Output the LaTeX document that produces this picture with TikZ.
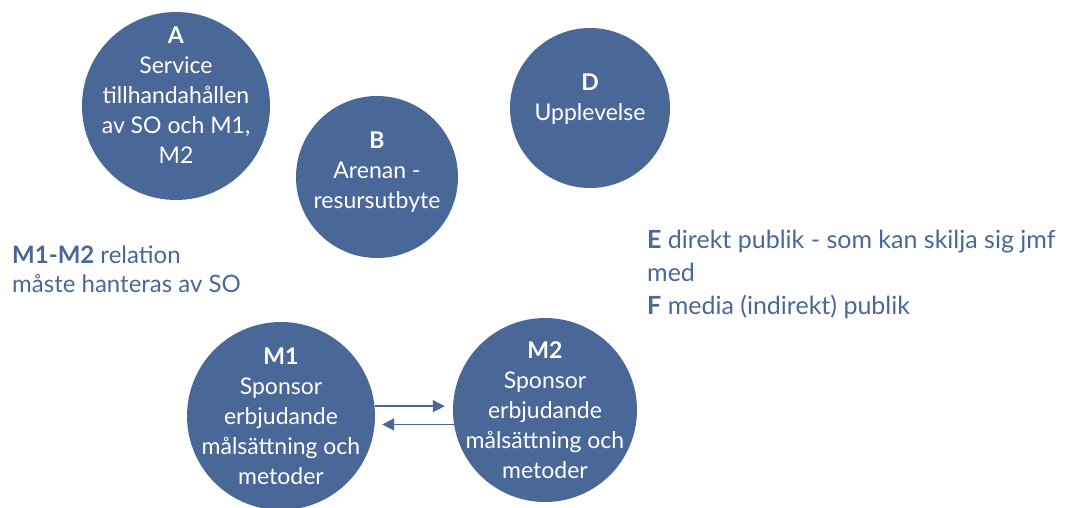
\documentclass[tikz,border=0pt]{standalone}
\usepackage{fontspec}
\setmainfont{Lato}
\usepackage{xcolor}
\usetikzlibrary{arrows.meta, positioning}
\definecolor{slate}{HTML}{4A6897}

\begin{document}
\begin{tikzpicture}[x=1pt, y=-1pt,
      disc/.style={circle, fill=slate, text=white, inner sep=-40pt,
                   align=center, font=\fontsize{23}{30}\selectfont},
      arr/.style={-{Triangle[length=12pt,width=12pt]}, line width=1.5pt, draw=slate, fill=slate},
      note/.style={text=slate, align=left, inner sep=0pt, anchor=north west}
    ]
    \useasboundingbox (0,0) rectangle (1066,507);
    % empty last line lifts the text a little, as in the slide
    \node[disc, minimum size=188pt] (A) at (176,106) {\textbf{A}\\Service\\tillhandahållen\\av SO och M1,\\M2\\[-9pt]\mbox{}};
    \node[disc, minimum size=162pt] (B) at (377,177) {\textbf{B}\\Arenan -\\resursutbyte\\[-17pt]\mbox{}};
    \node[disc, minimum size=160pt] (D) at (590,108) {\textbf{D}\\Upplevelse\\[-9pt]\mbox{}};
    \node[disc, minimum size=188pt] (M1) at (281,416) {\textbf{M1}\\Sponsor\\erbjudande\\målsättning och\\metoder};
    \node[disc, minimum size=184pt] (M2) at (545,410) {\textbf{M2}\\Sponsor\\erbjudande\\målsättning och\\metoder};

    \node[note, font=\fontsize{24}{29}\selectfont] (rel) at (12,246) {\textbf{M1-M2} relation\\måste hanteras av SO};
    \node[note, font=\fontsize{25}{33}\selectfont] (pub) at (647,230) {\textbf{E} direkt publik - som kan skilja sig jmf\\med\\\textbf{F} media (indirekt) publik};

    \draw[arr, shorten >=8pt] (M1.6.7) -- (M1.6.7 -| M2.west);
    \draw[arr, shorten >=7pt] (M2.189.4) -- (M2.189.4 -| M1.east);
  \end{tikzpicture}
\end{document}
